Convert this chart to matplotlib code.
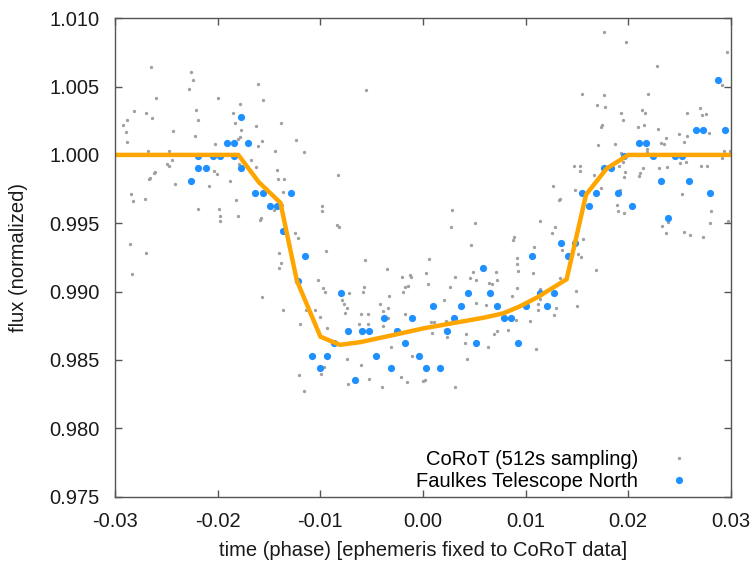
import matplotlib
matplotlib.use("Agg")
import matplotlib.pyplot as plt
from matplotlib.ticker import FormatStrFormatter, MultipleLocator

plt.rcParams['font.family'] = ['Liberation Sans', 'DejaVu Sans']
plt.rcParams['axes.unicode_minus'] = False

# CoRoT light curve, 512 s sampling (phase, normalized flux)
corot_phase = [
    -0.02647, -0.02266, -0.02240, -0.02286, -0.01606, -0.02601, -0.02000, -0.01564,
    -0.02813, -0.02696, -0.02640, -0.02888, -0.02927, -0.02900, -0.02881, -0.02215,
    -0.02195, -0.01785, -0.01850, -0.01830, -0.01772, -0.02439, -0.02227, -0.01785,
    -0.01801, -0.01625, -0.01388, -0.01574, -0.01613, -0.02029, -0.01239, -0.01444,
    -0.01164, -0.02683, -0.02478, -0.02403, -0.02445, -0.02494, -0.02478, -0.02611,
    -0.02624, -0.02663, -0.02673, -0.02416, -0.02042, -0.02006, -0.02091, -0.01879,
    -0.01674, -0.01632, -0.01795, -0.01424, -0.01411, -0.01359, -0.01366, -0.02845,
    -0.02825, -0.02715, -0.01824, -0.02191, -0.01993, -0.01983, -0.01980, -0.01805,
    -0.01583, -0.01590, -0.01457, -0.01379, -0.01245, -0.01220, -0.00985, -0.00988,
    -0.02855, -0.02702, -0.01408, -0.00942, -0.00552, -0.02835, -0.01571, -0.01381,
    -0.01401, -0.01369, -0.01196, -0.01144, -0.01054, -0.01008, -0.00940, -0.01020,
    -0.00972, -0.00956, -0.01206, -0.01157, -0.00995, -0.00966, -0.00825, -0.00839,
    -0.00822, -0.00566, -0.00354, -0.00786, -0.00771, -0.00725, -0.00738, -0.00757,
    -0.00572, -0.00588, -0.00605, -0.00540, -0.00620, -0.00537, -0.00422, -0.00390,
    -0.00344, -0.00328, -0.00386, -0.00344, -0.00208, -0.00179, -0.00195, -0.00146,
    -0.00113, -0.00127, -0.00172, 0.00026, 0.00062, 0.00053, 0.00078, 0.00104,
    0.00085, 0.00205, 0.00263, 0.00309, 0.00228, 0.00219, 0.00231, 0.00287,
    0.00270, 0.00465, 0.00504, 0.00488, 0.00462, 0.00517, 0.00521, 0.00417,
    0.00407, 0.00433, 0.00693, 0.00638, 0.00726, 0.00644, 0.00673, 0.00712,
    0.00719, 0.00619, 0.00868, 0.00921, 0.00878, 0.00888, 0.00917, 0.00914,
    0.00931, 0.00829, 0.00904, -0.00744, -0.00608, -0.00523, -0.00312, -0.00103,
    -0.00218, -0.00152, 0.00000, 0.00017, 0.00312, -0.00403, -0.00735, 0.01760,
    0.01975, 0.02960, 0.02280, 0.02917, 0.01551, 0.01766, 0.01773, 0.01701,
    0.02189, 0.01926, 0.01951, 0.02131, 0.02163, 0.02697, 0.02573, 0.02722,
    0.02761, 0.01746, 0.01734, 0.02092, 0.02153, 0.02293, 0.02368, 0.02322,
    0.02351, 0.02498, 0.02546, 0.02576, 0.02784, 0.01707, 0.01873, 0.02182,
    0.02180, 0.02992, 0.02934, 0.02917, 0.01929, 0.01948, 0.01906, 0.01470,
    0.01529, 0.01526, 0.01971, 0.01961, 0.02143, 0.02114, 0.02101, 0.02302,
    0.02380, 0.02507, 0.02560, 0.02709, 0.02768, 0.01668, 0.01737, 0.01265,
    0.01483, 0.01337, 0.01327, 0.01919, 0.01887, 0.01900, 0.01955, 0.02527,
    0.02807, 0.02800, 0.02970, 0.02329, 0.02365, 0.02384, 0.02540, 0.02599,
    0.02729, 0.01145, 0.01285, 0.01256, 0.01087, 0.01353, 0.01558, 0.01541,
    0.01509, 0.01073, 0.01688, 0.01334, 0.01139, 0.01119, 0.01292, 0.01493,
    0.01502, 0.01145, 0.01041, 0.01102, 0.01122, 0.01275,
]
corot_flux = [
    1.00642, 1.00605, 1.00551, 1.00485, 1.00520, 1.00415, 1.00419, 1.00403,
    1.00324, 1.00310, 1.00271, 1.00258, 1.00220, 1.00168, 1.00097, 1.00329,
    1.00254, 1.00373, 1.00305, 1.00234, 1.00183, 1.00178, 1.00137, 1.00134,
    1.00119, 1.00210, 1.00234, 1.00102, 1.00068, 1.00083, 1.00112, 1.00029,
    1.00022, 1.00027, 1.00027, 1.00007, 0.99966, 0.99932, 0.99919, 0.99878,
    0.99868, 0.99832, 0.99824, 0.99788, 0.99885, 0.99859, 0.99771, 0.99812,
    0.99963, 0.99912, 0.99932, 0.99888, 0.99822, 0.99827, 0.99731, 0.99717,
    0.99663, 0.99680, 0.99668, 0.99607, 0.99602, 0.99556, 0.99519, 0.99551,
    0.99541, 0.99524, 0.99597, 0.99636, 0.99431, 0.99395, 0.99629, 0.99588,
    0.99346, 0.99280, 0.99285, 0.99296, 1.00474, 0.99131, 0.98963, 0.99212,
    0.99173, 0.98863, 0.98765, 0.98863, 0.98867, 0.98816, 0.98734, 0.99085,
    0.99026, 0.98995, 0.98392, 0.98275, 0.98395, 0.98450, 0.99854, 0.99485,
    0.99475, 0.99234, 0.99168, 0.98936, 0.98911, 0.98992, 0.98878, 0.98843,
    0.99034, 0.98999, 0.98836, 0.98836, 0.98765, 0.98765, 0.98909, 0.98858,
    0.98882, 0.98966, 0.98750, 0.98809, 0.99109, 0.99036, 0.98997, 0.99039,
    0.99105, 0.99122, 0.98836, 0.99134, 0.99241, 0.99058, 0.98777, 0.98777,
    0.98699, 0.98936, 0.99031, 0.99107, 0.98787, 0.98719, 0.98665, 0.99597,
    0.99471, 0.99341, 0.99504, 0.99143, 0.99102, 0.99083, 0.98914, 0.98687,
    0.98622, 0.98507, 0.98690, 0.98597, 0.98712, 0.99065, 0.99053, 0.99141,
    0.99085, 0.98900, 0.98968, 0.99029, 0.99378, 0.99400, 0.99246, 0.99200,
    0.99149, 0.98719, 0.98792, 0.98509, 0.98460, 0.98362, 0.98592, 0.98526,
    0.98373, 0.98336, 0.98343, 0.98353, 0.98299, 0.98304, 0.98321, 1.00898,
    1.00829, 1.00752, 1.00649, 1.00512, 1.00449, 1.00439, 1.00354, 1.00366,
    1.00449, 1.00307, 1.00256, 1.00327, 1.00305, 1.00346, 1.00305, 1.00291,
    1.00298, 1.00220, 1.00205, 1.00205, 1.00220, 1.00188, 1.00127, 1.00086,
    1.00078, 1.00154, 1.00093, 1.00141, 1.00159, 1.00073, 1.00078, 1.00042,
    1.00024, 1.00031, 1.00027, 0.99976, 1.00012, 0.99949, 0.99922, 0.99919,
    0.99917, 0.99881, 0.99873, 0.99839, 0.99903, 0.99866, 0.99848, 0.99907,
    0.99914, 0.99941, 0.99949, 0.99917, 0.99917, 0.99851, 0.99756, 0.99773,
    0.99746, 0.99678, 0.99671, 0.99742, 0.99632, 0.99588, 0.99575, 0.99714,
    0.99588, 0.99504, 0.99517, 0.99478, 0.99431, 0.99510, 0.99439, 0.99414,
    0.99400, 0.99515, 0.99475, 0.99431, 0.99327, 0.99305, 0.99383, 0.99256,
    0.99277, 0.99134, 0.99158, 0.99097, 0.99017, 0.98907, 0.98882, 0.99004,
    0.98897, 0.98946, 0.98787, 0.98578, 0.98867, 0.98831,
]

# Faulkes Telescope North photometry
ftn_phase = [
    -0.01772, -0.01912, -0.01844, -0.01707, -0.02191, -0.02052, -0.01983, -0.01844,
    -0.02191, -0.02117, -0.01772, -0.02260, -0.01635, -0.01564, -0.01288, -0.01493,
    -0.01420, -0.01362, -0.01151, -0.01220, -0.01079, -0.00937, -0.01008, -0.00803,
    -0.00732, -0.00598, -0.00530, -0.00864, -0.00663, -0.00455, -0.00383, -0.00315,
    -0.00250, -0.00179, -0.00110, -0.00042, 0.00026, 0.00101, 0.00170, 0.00238,
    0.00306, 0.00375, 0.00443, 0.00514, 0.00585, 0.00658, 0.00726, 0.00794,
    0.00862, 0.00931, 0.01002, 0.01067, 0.01139, 0.01210, 0.01278, 0.01346,
    0.01415, 0.01483, 0.01551, 0.01620, 0.01688, 0.01763, 0.01831, 0.01900,
    0.01958, 0.02039, 0.02104, 0.02172, 0.02241, 0.02319, 0.02387, 0.02455,
    0.02524, 0.02592, 0.02660, 0.02729, 0.02797, 0.02872, 0.02944,
]
ftn_flux = [
    1.00276, 1.00088, 1.00088, 1.00088, 0.99995, 0.99995, 0.99995, 0.99995,
    0.99907, 0.99907, 0.99907, 0.99812, 0.99720, 0.99720, 0.99720, 0.99629,
    0.99629, 0.99446, 0.99261, 0.99078, 0.98531, 0.98531, 0.98441, 0.98990,
    0.98714, 0.98714, 0.98714, 0.98624, 0.98353, 0.98531, 0.98807, 0.98441,
    0.98714, 0.98624, 0.98807, 0.98531, 0.98441, 0.98897, 0.98441, 0.98714,
    0.98807, 0.98897, 0.98990, 0.98624, 0.99171, 0.98990, 0.98897, 0.98807,
    0.98807, 0.98624, 0.98897, 0.99261, 0.98992, 0.98897, 0.98992, 0.99354,
    0.99261, 0.99354, 0.99720, 0.99629, 0.99720, 0.99907, 0.99907, 0.99720,
    0.99995, 0.99629, 1.00090, 1.00090, 0.99995, 0.99812, 0.99537, 0.99995,
    0.99995, 0.99812, 1.00183, 1.00183, 0.99720, 1.00551, 1.00183,
]

# transit model
model_phase = [-0.030, -0.0180, -0.0160, -0.0139, -0.0123, -0.0100, -0.0081, -0.0061,
               -0.0030, 0.0000, 0.0030, 0.0060, 0.0078, 0.0094, 0.0112, 0.0140,
               0.0159, 0.0179, 0.0200, 0.030]
model_flux = [1.0000, 1.0000, 0.9980, 0.9965, 0.9908, 0.9867, 0.9861, 0.9863,
              0.9868, 0.9873, 0.9877, 0.9881, 0.9884, 0.9889, 0.9896, 0.9909,
              0.9971, 0.9990, 1.0000, 1.0000]

fig = plt.figure(figsize=(7.51, 5.62), dpi=100)
ax = fig.add_axes([0.1535, 0.1165, 0.8195, 0.851])

ax.plot(corot_phase, corot_flux, 'o', color='#a0a0a0', ms=2.4, mew=0,
        label='CoRoT (512s sampling)')
ax.plot(ftn_phase, ftn_flux, 'o', color='#1e90ff', ms=5.2, mew=0,
        label='Faulkes Telescope North')
ax.plot(model_phase, model_flux, '-', color='#ffa500', lw=3.2,
        solid_joinstyle='miter')

ax.set_xlim(-0.03, 0.03)
ax.set_ylim(0.975, 1.010)
ax.xaxis.set_major_locator(MultipleLocator(0.01))
ax.yaxis.set_major_locator(MultipleLocator(0.005))
ax.xaxis.set_major_formatter(FormatStrFormatter('%.2f'))
ax.yaxis.set_major_formatter(FormatStrFormatter('%.3f'))
ax.tick_params(direction='in', length=5, width=1, color='#555555',
               top=True, right=True, labelsize=14.5, labelcolor='#1a1a1a')
ax.tick_params(axis='y', pad=11.5)
ax.tick_params(axis='x', pad=11)
for s in ax.spines.values():
    s.set_color('#555555')
    s.set_linewidth(1)

ax.set_xlabel('time (phase) [ephemeris fixed to CoRoT data]', fontsize=14.5,
              labelpad=7, color='#1a1a1a')
ax.set_ylabel('flux (normalized)', fontsize=14.5, labelpad=15, color='#1a1a1a')

# key sits in the lower right corner, labels right-aligned with symbols after them
ax.legend(loc='lower right', bbox_to_anchor=(0.9545, 0.004), frameon=False,
          markerfirst=False, fontsize=14.5, handlelength=2.0, handletextpad=1.0,
          labelspacing=0.15, borderaxespad=0.0, borderpad=0.2)

fig.savefig('out.png', dpi=100)
